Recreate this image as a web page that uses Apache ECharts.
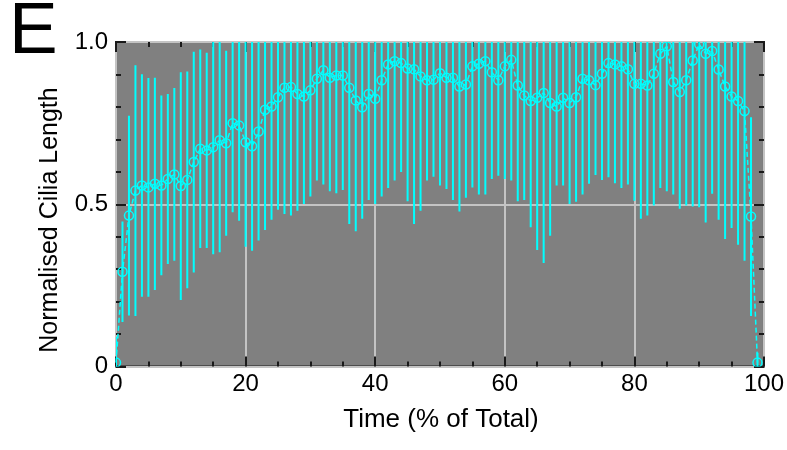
<!DOCTYPE html>
<html><head><meta charset="utf-8">
<script src="https://cdn.jsdelivr.net/npm/echarts@6/dist/echarts.min.js"></script>
<style>html,body{margin:0;padding:0;background:#fff}#c{width:787px;height:450px}</style>
</head><body><div id="c"></div>
<script>
const time = [0,1,2,3,4,5,6,7,8,9,10,11,12,13,14,15,16,17,18,19,20,21,22,23,24,25,26,27,28,29,30,31,32,33,34,35,36,37,38,39,40,41,42,43,44,45,46,47,48,49,50,51,52,53,54,55,56,57,58,59,60,61,62,63,64,65,66,67,68,69,70,71,72,73,74,75,76,77,78,79,80,81,82,83,84,85,86,87,88,89,90,91,92,93,94,95,96,97,98,99];
const meanLength = [
 0.012,0.292,0.465,0.542,0.558,0.552,0.563,0.558,0.578,0.592,
 0.556,0.575,0.630,0.671,0.666,0.676,0.697,0.688,0.750,0.743,
 0.691,0.679,0.724,0.791,0.801,0.830,0.859,0.861,0.840,0.832,
 0.851,0.887,0.913,0.890,0.897,0.897,0.859,0.820,0.799,0.840,
 0.825,0.882,0.931,0.941,0.935,0.918,0.916,0.894,0.882,0.884,
 0.904,0.890,0.890,0.863,0.869,0.925,0.933,0.941,0.907,0.882,
 0.925,0.945,0.866,0.835,0.818,0.828,0.843,0.812,0.801,0.828,
 0.812,0.830,0.887,0.882,0.867,0.902,0.935,0.931,0.925,0.916,
 0.871,0.871,0.866,0.902,0.964,0.987,0.877,0.846,0.882,0.943,
 0.993,0.964,0.972,0.915,0.863,0.832,0.818,0.787,0.462,0.012];
const sdLength = [
 0.080,0.155,0.308,0.386,0.343,0.337,0.327,0.277,0.262,0.266,
 0.351,0.334,0.340,0.306,0.301,0.330,0.345,0.285,0.275,0.294,
 0.322,0.322,0.336,0.370,0.349,0.347,0.389,0.396,0.360,0.331,
 0.327,0.314,0.352,0.350,0.363,0.353,0.420,0.403,0.344,0.327,
 0.324,0.358,0.381,0.368,0.336,0.409,0.477,0.414,0.309,0.299,
 0.346,0.343,0.377,0.385,0.349,0.373,0.403,0.411,0.329,0.294,
 0.347,0.372,0.357,0.322,0.389,0.469,0.524,0.409,0.243,0.270,
 0.311,0.322,0.357,0.319,0.277,0.327,0.352,0.366,0.375,0.355,
 0.360,0.416,0.401,0.406,0.414,0.447,0.347,0.360,0.386,0.450,
 0.502,0.520,0.440,0.463,0.470,0.405,0.443,0.461,0.306,0.030];
const xTickLabels = ['0','20','40','60','80','100'];
const yTickLabels = ['0','0.5','1.0'];
const panelLabel = 'E';
const xTitle = 'Time (% of Total)';
const yTitle = 'Normalised Cilia Length';

const points = time.map((t, i) => [t, meanLength[i], sdLength[i]]);
const FONT = "'Liberation Sans', Arial, sans-serif";
const CYAN = '#00ffff';
const INK = '#1a1a1a';

const tickStyle = {color: INK, width: 2};
function xAx(pos, labels) {
  return {
    type: 'value', min: 0, max: 100, interval: 20, position: pos,
    axisLine: {show: false, onZero: false},
    axisTick: {show: true, inside: true, length: 10, lineStyle: tickStyle},
    minorTick: {show: true, splitNumber: 4, length: 5, lineStyle: tickStyle},
    axisLabel: {show: labels, fontFamily: FONT, fontSize: 24, color: '#000', margin: 6,
      formatter: v => xTickLabels[Math.round(v / 20)]},
    splitLine: {show: labels, lineStyle: {color: '#c4c4c4', width: 2}}
  };
}
function yAx(pos, labels) {
  return {
    type: 'value', min: 0, max: 1, interval: 0.5, position: pos,
    axisLine: {show: false, onZero: false},
    axisTick: {show: true, inside: true, length: 10, lineStyle: tickStyle},
    minorTick: {show: true, splitNumber: 5, length: 5, lineStyle: tickStyle},
    axisLabel: {show: labels, fontFamily: FONT, fontSize: 24, color: '#000', margin: 8,
      formatter: v => yTickLabels[Math.round(v * 2)]},
    splitLine: {show: labels, lineStyle: {color: '#c4c4c4', width: 2}}
  };
}

const chart = echarts.init(document.getElementById('c'), null, {renderer: 'canvas'});
chart.setOption({
  animation: false,
  backgroundColor: '#ffffff',
  grid: {left: 116, right: 20, top: 42, bottom: 83.5, show: true,
    backgroundColor: '#808080', borderColor: INK, borderWidth: 2},
  xAxis: [xAx('bottom', true), xAx('top', false)],
  yAxis: [yAx('left', true), yAx('right', false)],
  graphic: [
    {type: 'text', left: 9, top: -4, z: 10,
      style: {text: panelLabel, font: "73px 'Liberation Sans', Arial, sans-serif", fill: '#000'}},
    {type: 'text', x: 441, y: 420, z: 10,
      style: {text: xTitle, font: "26px 'Liberation Sans', Arial, sans-serif", fill: '#000',
        align: 'center', verticalAlign: 'middle'}},
    {type: 'text', x: 50, y: 220, rotation: Math.PI / 2, z: 10,
      style: {text: yTitle, font: "25px 'Liberation Sans', Arial, sans-serif", fill: '#000',
        align: 'center', verticalAlign: 'middle'}}
  ],
  series: [
    {
      type: 'custom', name: 'sd', clip: true, data: points,
      encode: {x: 0, y: 1},
      renderItem: (params, api) => {
        const x = api.value(0), m = api.value(1), s = api.value(2);
        const a = api.coord([x, m + s]), b = api.coord([x, m - s]);
        return {type: 'line', shape: {x1: a[0], y1: a[1], x2: b[0], y2: b[1]},
          style: {stroke: CYAN, lineWidth: 2}};
      }
    },
    {
      type: 'line', name: 'mean', data: points.map(p => [p[0], p[1]]),
      showSymbol: false, symbol: 'none', clip: true,
      lineStyle: {color: CYAN, width: 1.5, type: [5, 3]}
    },
    {
      type: 'custom', name: 'markers', data: points,
      encode: {x: 0, y: 1},
      renderItem: (params, api) => {
        const p = api.coord([api.value(0), api.value(1)]);
        const cs = params.coordSys;
        return {type: 'group',
          clipPath: {type: 'rect', shape: {x: cs.x, y: cs.y, width: cs.width, height: cs.height}},
          children: [{type: 'circle', shape: {cx: p[0], cy: p[1], r: 4.5},
            style: {fill: 'none', stroke: CYAN, lineWidth: 1.5}}]};
      }
    }
  ]
});
</script></body></html>
